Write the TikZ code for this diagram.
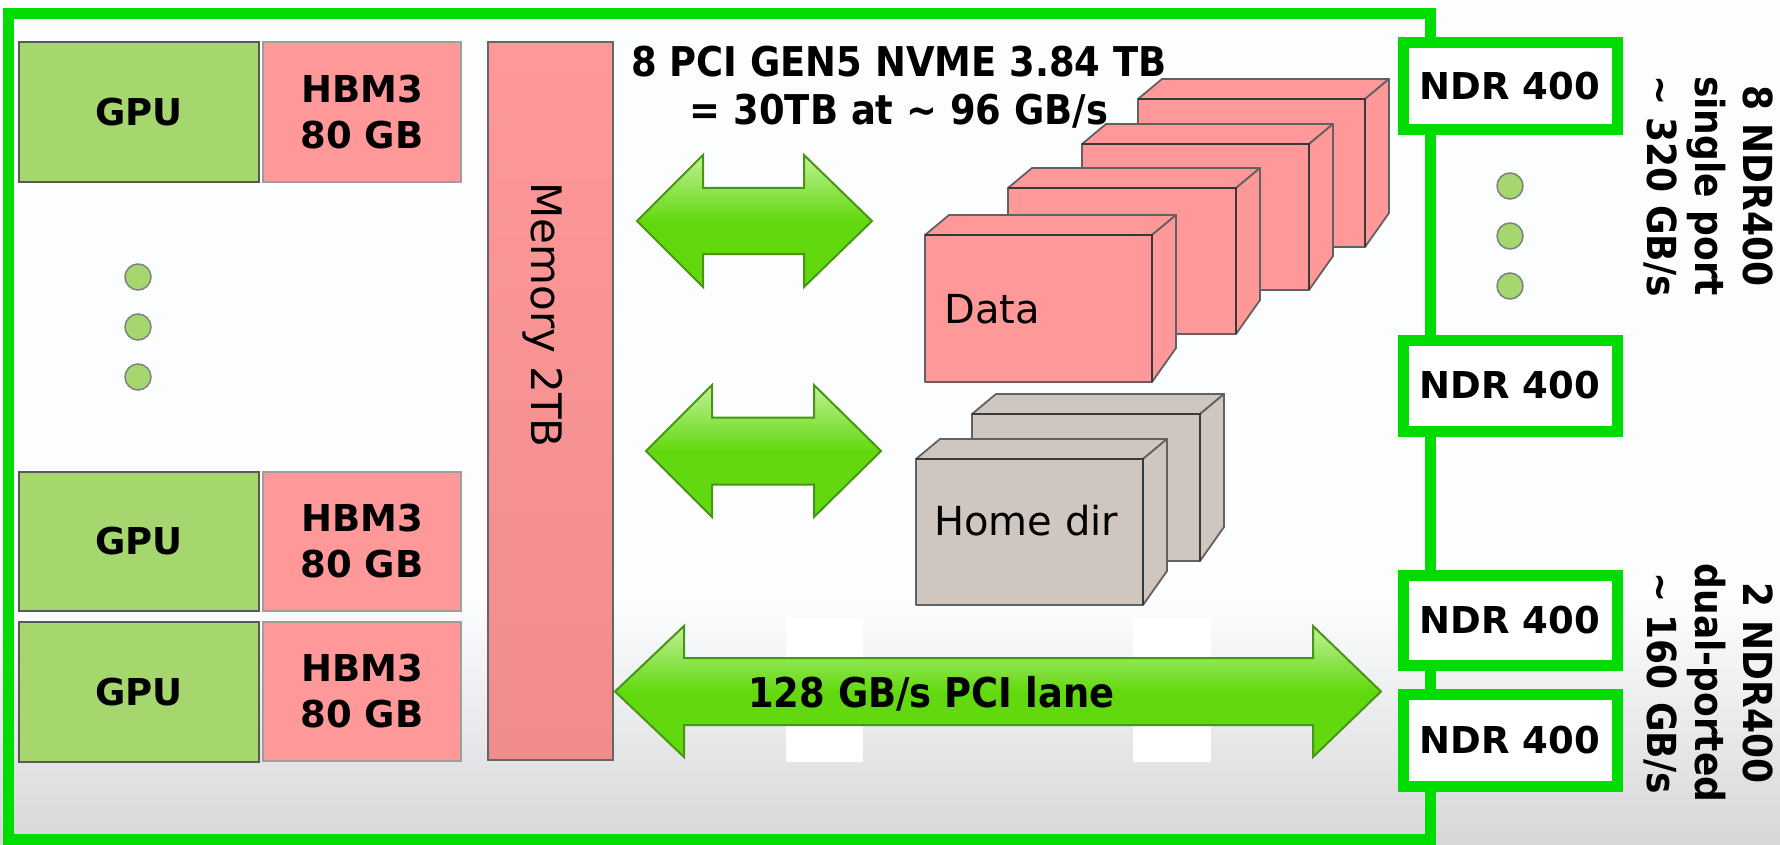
\documentclass[tikz,border=0pt]{standalone}
\usepackage{fontspec}
\setmainfont{DejaVu Sans}
\newfontfamily\condfont[FakeStretch=0.9]{DejaVu Sans}
\definecolor{framegreen}{RGB}{0,220,0}
\definecolor{gpugreen}{RGB}{165,215,110}
\definecolor{hbmpink}{RGB}{255,153,153}
\definecolor{memdark}{RGB}{240,140,140}
\definecolor{homegrey}{RGB}{207,198,192}
\definecolor{arrowgreen}{RGB}{98,217,15}
\definecolor{arrowlight}{RGB}{192,241,150}
\definecolor{arrowedge}{RGB}{72,150,20}
\definecolor{bgtop}{RGB}{252,253,254}
\definecolor{bgbot}{RGB}{213,215,217}
\tikzset{
  gpubox/.style={draw=black!65, line width=2pt, fill=gpugreen, inner sep=0pt,
    minimum width=240pt, font=\bfseries\fontsize{37}{46}\selectfont},
  hbmbox/.style={draw=black!38, line width=2pt, fill=hbmpink, inner sep=0pt, align=center,
    minimum width=198pt, font=\bfseries\fontsize{37}{46}\selectfont},
  membox/.style={draw=black!60, line width=2.5pt, top color=hbmpink, bottom color=memdark,
    inner sep=0pt, minimum width=125pt, minimum height=718pt},
  ndrbox/.style={draw=framegreen, line width=11pt, fill=white, inner sep=0pt,
    minimum width=214pt, font=\bfseries\fontsize{37}{44}\selectfont},
  dotnode/.style={circle, draw=black!50, line width=1.5pt, fill=gpugreen, minimum size=26pt, inner sep=0pt},
  bigarrow/.style={draw=arrowedge, line width=2pt, line join=miter,
    top color=arrowlight, bottom color=arrowgreen, middle color=arrowgreen},
  cubeedge/.style={draw=black!62, line width=1.8pt, line join=round},
  condlbl/.style={inner sep=0pt, font=\condfont\bfseries\fontsize{41}{48}\selectfont},
  rightlbl/.style={inner sep=0pt, rotate=-90, anchor=base, font=\condfont\bfseries\fontsize{40}{48}\selectfont},
  plainlbl/.style={inner sep=0pt, font=\fontsize{40}{48}\selectfont},
}
% cube: x y (front top-left), w h, fill colour
\newcommand\mycube[5]{%
  \filldraw[cubeedge, fill=#5] (#1,#2) -- ++(24,-20) -- ++(#3,0) -- ++(-24,20) -- cycle;
  \filldraw[cubeedge, fill=#5] (#1+#3,#2) -- ++(24,-20) -- ++(0,#4-14) -- ++(-24,34) -- cycle;
  \filldraw[cubeedge, fill=#5] (#1,#2) rectangle ++(#3,#4);
  \draw[black!78, line width=2.6pt] (#1,#2) -- ++(#3,0) -- ++(0,#4);
}
% double block arrow: tipL baseL baseR tipR ycentre headhalf shafthalf
\newcommand\myarrow[7]{%
  \path[bigarrow] (#1,#5) -- (#2,#5-#6) -- (#2,#5-#7) -- (#3,#5-#7) -- (#3,#5-#6)
    -- (#4,#5) -- (#3,#5+#6) -- (#3,#5+#7) -- (#2,#5+#7) -- (#2,#5+#6) -- cycle;
}
\begin{document}
\begin{tikzpicture}[x=1pt,y=-1pt]
\useasboundingbox (0,0) rectangle (1780,845);
% background
\fill[bgtop] (0,0) rectangle (1780,845);
\shade[top color=bgtop, bottom color=bgbot] (0,600) rectangle (1780,845);
\fill[white] (786,618) rectangle (863,762);
\fill[white] (1133,618) rectangle (1211,762);
% frame
\draw[framegreen, line width=11pt] (8,13.5) rectangle (1430,839.5);
% GPUs and HBM
\node[gpubox, minimum height=140pt] (gpu1) at (139,112) {GPU};
\node[gpubox, minimum height=139pt] (gpu2) at (139,541.5) {GPU};
\node[gpubox, minimum height=140pt] (gpu3) at (139,692) {GPU};
\node[hbmbox, minimum height=140pt] (hbm1) at (362,112.5) {HBM3\\80 GB};
\node[hbmbox, minimum height=139pt] (hbm2) at (362,541.5) {HBM3\\80 GB};
\node[hbmbox, minimum height=139pt] (hbm3) at (362,691.5) {HBM3\\80 GB};
\node[dotnode] (ld1) at (138,277) {};
\node[dotnode] (ld2) at (138,327) {};
\node[dotnode] (ld3) at (138,377) {};
% memory
\node[membox] (mem) at (550.5,401) {};
\node[plainlbl, rotate=-90, anchor=base, font=\fontsize{42}{50}\selectfont] (memlbl) at (531,315) {Memory 2TB};
% NVMe cubes
\mycube{1138}{99}{227}{148}{hbmpink}
\mycube{1082}{144}{227}{146}{hbmpink}
\mycube{1008}{188}{228}{146}{hbmpink}
\mycube{925}{235}{227}{147}{hbmpink}
\mycube{972}{414}{228}{147}{homegrey}
\mycube{916}{459}{227}{146}{homegrey}
\node[plainlbl, anchor=base west] (datalbl) at (944,323) {Data};
\node[plainlbl, anchor=base west] (homelbl) at (934,535) {Home dir};
% arrows
\myarrow{637}{703}{804}{872}{221}{66}{33}
\myarrow{646}{712}{814}{881}{451}{66}{33.5}
\myarrow{615}{684}{1313}{1381}{691.5}{65.5}{33.5}
% NDR boxes
\node[ndrbox, minimum height=87pt] (ndr1) at (1510,86.5) {NDR 400};
\node[ndrbox, minimum height=91pt] (ndr2) at (1510,385.5) {NDR 400};
\node[ndrbox, minimum height=90pt] (ndr3) at (1510,620) {NDR 400};
\node[ndrbox, minimum height=92pt] (ndr4) at (1510,740) {NDR 400};
\node[dotnode] (rd1) at (1510,186) {};
\node[dotnode] (rd2) at (1510,236) {};
\node[dotnode] (rd3) at (1510,286) {};
% texts
\node[condlbl, anchor=base] (title1) at (899,77) {8 PCI GEN5 NVME 3.84 TB};
\node[condlbl, anchor=base] (title2) at (899,125) {= 30TB at \textasciitilde{} 96 GB/s};
\node[condlbl, anchor=base west] (pcilbl) at (748,707) {128 GB/s PCI lane};
\node[rightlbl] (s1) at (1743,186) {8 NDR400};
\node[rightlbl] (s2) at (1695,186) {single port};
\node[rightlbl] (s3) at (1647,186) {\textasciitilde{} 320 GB/s};
\node[rightlbl] (d1) at (1743,683) {2 NDR400};
\node[rightlbl] (d2) at (1695,683) {dual-ported};
\node[rightlbl] (d3) at (1647,683) {\textasciitilde{} 160 GB/s};
\end{tikzpicture}
\end{document}
